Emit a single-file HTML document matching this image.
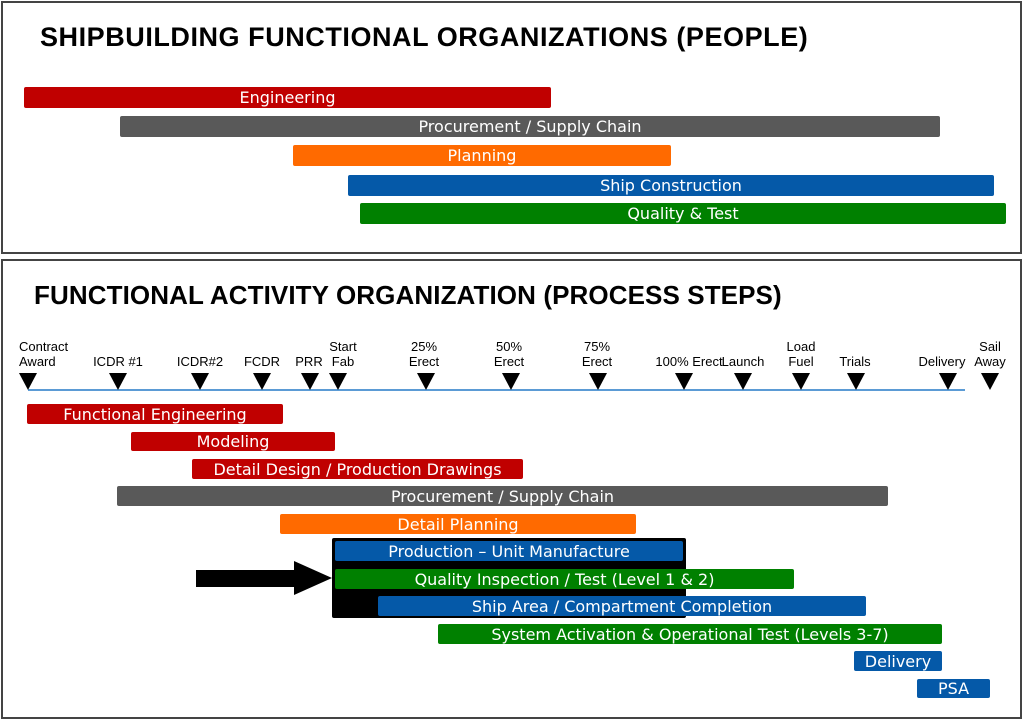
<!DOCTYPE html>
<html><head><meta charset="utf-8"><style>
body{margin:0;width:1024px;height:721px;background:#fff;position:relative;overflow:hidden;font-family:"Liberation Sans",sans-serif}
.panel{position:absolute;border:2px solid #444;box-sizing:border-box}
.title{position:absolute;font-weight:bold;color:#000;white-space:nowrap}
.bar{position:absolute;color:#fff;font-family:"DejaVu Sans",sans-serif;font-size:16px;text-align:center;white-space:nowrap;border-radius:2px;display:flex;align-items:center;justify-content:center}
.r{background:#c00000}.g{background:#595959}.o{background:#ff6a00}.b{background:#0559a8}.gr{background:#008000}
.tri{position:absolute;width:0;height:0;border-left:9px solid transparent;border-right:9px solid transparent;border-top:17px solid #000;top:373px}
.lab{position:absolute;font-size:13px;line-height:15px;color:#000;text-align:center;width:90px;white-space:nowrap}
</style></head><body>
<div class="panel" style="left:1px;top:1px;width:1021px;height:253px"></div>
<div class="panel" style="left:1px;top:259px;width:1021px;height:460px"></div>
<div class="title" style="left:40px;top:22px;font-size:27px;letter-spacing:0.55px">SHIPBUILDING FUNCTIONAL ORGANIZATIONS (PEOPLE)</div>
<div class="title" style="left:34px;top:280px;font-size:26px;letter-spacing:0.1px">FUNCTIONAL ACTIVITY ORGANIZATION (PROCESS STEPS)</div>

<div class="bar r" style="left:24px;top:87px;width:527px;height:21px">Engineering</div>
<div class="bar g" style="left:120px;top:116px;width:820px;height:21px">Procurement / Supply Chain</div>
<div class="bar o" style="left:293px;top:145px;width:378px;height:21px">Planning</div>
<div class="bar b" style="left:348px;top:175px;width:646px;height:21px">Ship Construction</div>
<div class="bar gr" style="left:360px;top:203px;width:646px;height:21px">Quality &amp; Test</div>

<div style="position:absolute;left:28px;top:389px;width:937px;height:2px;background:#5b9bd5"></div>
<div class="tri" style="left:19px"></div><div class="tri" style="left:109px"></div><div class="tri" style="left:191px"></div><div class="tri" style="left:253px"></div><div class="tri" style="left:301px"></div><div class="tri" style="left:329px"></div><div class="tri" style="left:417px"></div><div class="tri" style="left:502px"></div><div class="tri" style="left:589px"></div><div class="tri" style="left:675px"></div><div class="tri" style="left:734px"></div><div class="tri" style="left:792px"></div><div class="tri" style="left:847px"></div><div class="tri" style="left:939px"></div><div class="tri" style="left:981px"></div>

<div class="lab" style="left:19px;top:339px;text-align:left">Contract<br>Award</div>
<div class="lab" style="left:73px;top:354px">ICDR #1</div>
<div class="lab" style="left:155px;top:354px">ICDR#2</div>
<div class="lab" style="left:217px;top:354px">FCDR</div>
<div class="lab" style="left:264px;top:354px">PRR</div>
<div class="lab" style="left:298px;top:339px">Start<br>Fab</div>
<div class="lab" style="left:379px;top:339px">25%<br>Erect</div>
<div class="lab" style="left:464px;top:339px">50%<br>Erect</div>
<div class="lab" style="left:552px;top:339px">75%<br>Erect</div>
<div class="lab" style="left:644px;top:354px">100% Erect</div>
<div class="lab" style="left:698px;top:354px">Launch</div>
<div class="lab" style="left:756px;top:339px">Load<br>Fuel</div>
<div class="lab" style="left:810px;top:354px">Trials</div>
<div class="lab" style="left:897px;top:354px">Delivery</div>
<div class="lab" style="left:945px;top:339px">Sail<br>Away</div>

<div class="bar r" style="left:27px;top:404px;width:256px;height:20px">Functional Engineering</div>
<div class="bar r" style="left:131px;top:432px;width:204px;height:19px">Modeling</div>
<div class="bar r" style="left:192px;top:459px;width:331px;height:20px">Detail Design / Production Drawings</div>
<div class="bar g" style="left:117px;top:486px;width:771px;height:20px">Procurement / Supply Chain</div>
<div class="bar o" style="left:280px;top:514px;width:356px;height:20px">Detail Planning</div>

<div style="position:absolute;left:332px;top:538px;width:354px;height:80px;background:#000;border-radius:2px"></div>
<div class="bar b" style="left:335px;top:541px;width:348px;height:20px">Production – Unit Manufacture</div>
<div class="bar gr" style="left:335px;top:569px;width:459px;height:20px">Quality Inspection / Test (Level 1 &amp; 2)</div>
<div class="bar b" style="left:378px;top:596px;width:488px;height:20px">Ship Area / Compartment Completion</div>
<div class="bar gr" style="left:438px;top:624px;width:504px;height:20px">System Activation &amp; Operational Test (Levels 3-7)</div>
<div class="bar b" style="left:854px;top:651px;width:88px;height:20px">Delivery</div>
<div class="bar b" style="left:917px;top:679px;width:73px;height:19px">PSA</div>

<svg style="position:absolute;left:0;top:0" width="1024" height="721"><polygon points="196,570 294,570 294,561 332,578 294,595 294,587 196,587" fill="#000"/></svg>
</body></html>
